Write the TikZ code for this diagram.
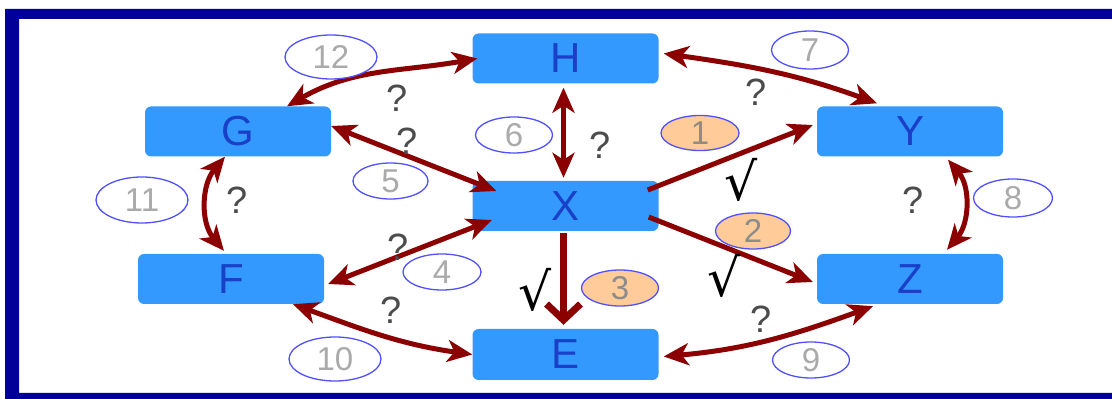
\documentclass[tikz,border=0pt]{standalone}
\usepackage{fontspec}
\setmainfont{Liberation Sans}
\newfontfamily\dejavu{DejaVu Sans}
\usetikzlibrary{arrows.meta,shapes.geometric}
\definecolor{frameblue}{HTML}{000099}
\definecolor{boxblue}{HTML}{3399FF}
\definecolor{letterblue}{HTML}{1A40C8}
\definecolor{arrowred}{HTML}{8B0000}
\definecolor{ellblue}{HTML}{5050FF}
\definecolor{numgray}{HTML}{AAAAAA}
\definecolor{peach}{HTML}{FFCC99}
\begin{document}
\begin{tikzpicture}[x=1pt,y=1pt,
  box/.style={fill=boxblue,rounded corners=6pt,minimum width=186pt,minimum height=50pt,inner sep=0pt,text=letterblue,font=\fontsize{42}{42}\selectfont},
  num/.style={ellipse,draw=ellblue,line width=1.3pt,fill=white,inner sep=0pt,text=numgray,font=\fontsize{33}{33}\selectfont},
  hit/.style={num,fill=peach,text=black!45},
  qm/.style={text=black!70,font=\fontsize{38}{38}\selectfont,inner sep=0pt},
  ck/.style={font=\dejavu\fontsize{52}{52}\selectfont,inner sep=0pt},
  link/.style={draw=arrowred,line width=5pt},
  tip/.tip={Stealth[length=25pt,width=22pt,inset=7pt]},
]
\useasboundingbox (0,0) rectangle (1112,399);
% frame
\fill[frameblue,even odd rule] (5,0) rectangle (1125,390) (19,6) rectangle (1125,380);

% boxes
\node[box] (H) at (565.5,340.5) {H};
\node[box] (G) at (238,267.5) {G};
\node[box] (Y) at (910,267.5) {Y};
\node[box] (X) at (565.5,193) {X};
\node[box] (F) at (231,120) {F};
\node[box] (Z) at (910,120) {Z};
\node[box,minimum height=51pt] (E) at (565.5,44.5) {E};

% connectors
\draw[link,tip-tip] ([xshift=49pt]G.north) to[out=30,in=190] ([xshift=5pt]H.west);
\draw[link,tip-tip] ([xshift=5pt,yshift=5pt]H.east) to[out=-8,in=160] ([xshift=-33pt,yshift=3pt]Y.north);
\draw[link,tip-tip,shorten <=4pt,shorten >=3pt] ([xshift=-2pt]H.south) -- ([xshift=-2pt]X.north);
\draw[link,tip-tip] ([yshift=5.5pt]G.east) -- ([xshift=24pt,yshift=15pt]X.west);
\draw[link,-tip] ([xshift=-11pt,yshift=16pt]X.east) -- ([xshift=-4pt,yshift=6.5pt]Y.west);
\draw[link,-tip] ([xshift=-10pt,yshift=-11pt]X.east) -- ([xshift=-4pt,yshift=-3pt]Z.west);
\draw[link,line width=7pt,-{Straight Barb[length=16pt,width=34pt]},shorten >=4pt,shorten <=2pt] ([xshift=-2pt]X.south) -- ([xshift=-2pt]E.north);
\draw[link,tip-tip] ([xshift=19.5pt,yshift=-14pt]X.west) -- ([xshift=4pt,yshift=-5pt]F.east);
\draw[link,tip-tip] ([xshift=-13pt]G.south) to[out=230,in=130] ([xshift=-7pt,yshift=3pt]F.north);
\draw[link,tip-tip] ([xshift=38pt,yshift=-3pt]Y.south) to[out=-50,in=50] ([xshift=37pt,yshift=4pt]Z.north);
\draw[link,tip-tip] ([xshift=62pt]F.south) to[out=-20,in=172] (E.west);
\draw[link,tip-tip] ([xshift=-37pt,yshift=-2pt]Z.south) to[out=200,in=5] ([xshift=5pt,yshift=-2pt]E.east);

% number labels
\node[num,minimum width=92pt,minimum height=44pt] (n12) at (331,342) {12};
\node[num,minimum width=77pt,minimum height=38pt] (n7) at (810,349) {7};
\node[num,minimum width=77pt,minimum height=36pt] (n6) at (514,264) {6};
\node[hit,minimum width=78pt,minimum height=35pt] (n1) at (700,266) {1};
\node[num,minimum width=75pt,minimum height=36pt] (n5) at (390.5,218) {5};
\node[num,minimum width=92pt,minimum height=46pt] (n11) at (142,199) {11};
\node[num,minimum width=79pt,minimum height=38pt] (n8) at (1013,201) {8};
\node[hit,minimum width=75pt,minimum height=36pt] (n2) at (753,168) {2};
\node[num,minimum width=78pt,minimum height=36pt] (n4) at (442,127) {4};
\node[hit,minimum width=77pt,minimum height=36pt] (n3) at (620,111) {3};
\node[num,minimum width=92pt,minimum height=44pt] (n10) at (335,40) {10};
\node[num,minimum width=77pt,minimum height=36pt] (n9) at (811,39) {9};

% question marks
\node[qm] (q1) at (397,301) {?};
\node[qm] (q2) at (407,258) {?};
\node[qm] (q3) at (600,254) {?};
\node[qm] (q4) at (756,307) {?};
\node[qm] (q5) at (237,199) {?};
\node[qm] (q6) at (398,152) {?};
\node[qm] (q7) at (391,89) {?};
\node[qm] (q8) at (913,199) {?};
\node[qm] (q9) at (761,80) {?};

% checks
\node[ck] (c1) at (741,219) {√};
\node[ck] (c2) at (535,109) {√};
\node[ck] (c3) at (724,123) {√};
\end{tikzpicture}
\end{document}
